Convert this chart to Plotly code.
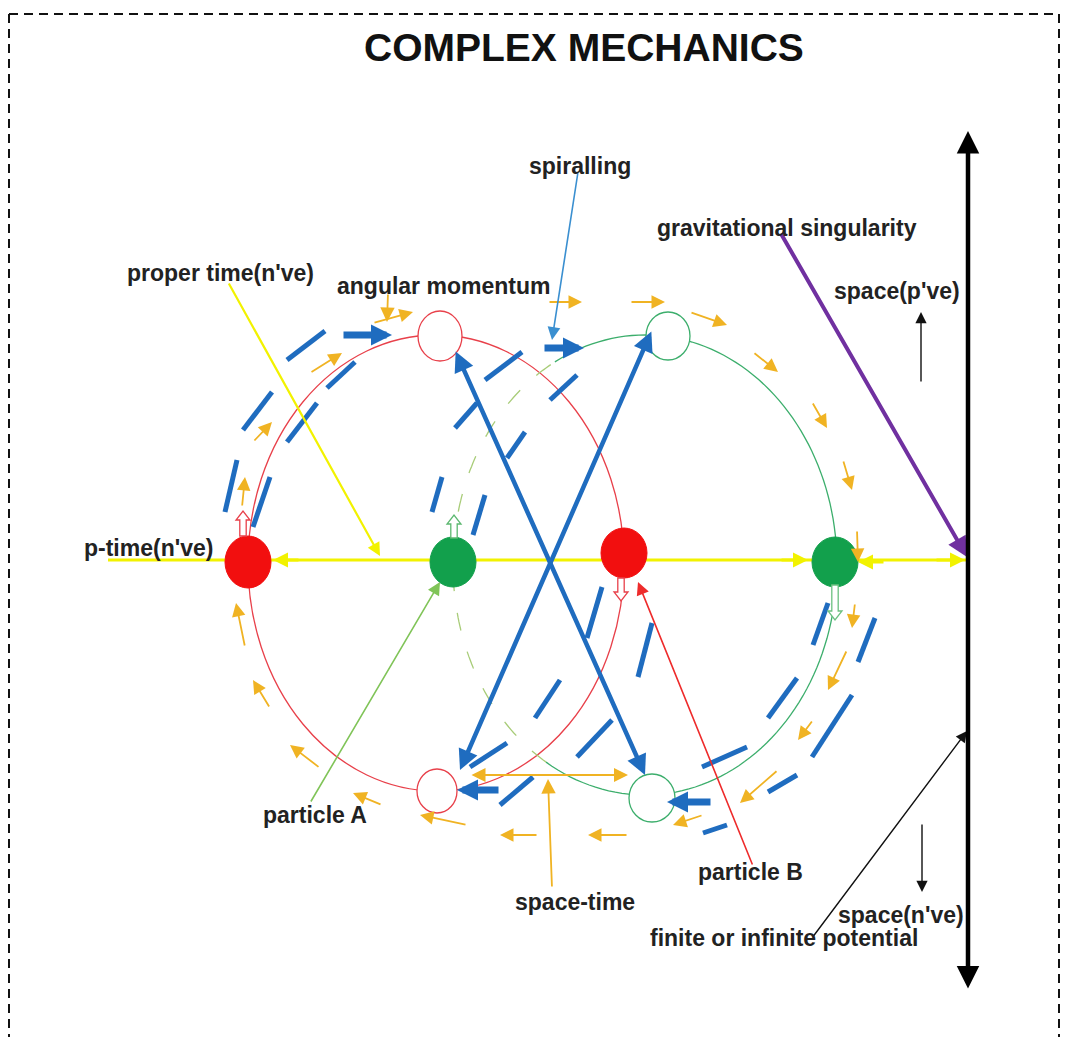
import numpy as np
import plotly.graph_objects as go

W, H = 1066, 1037

# ---------------- diagram data (pixel coordinates of the reference) ----------------
TITLE = "COMPLEX MECHANICS"

LABELS = [  # text, x-center, y-center
    ("spiralling", 580, 166),
    ("gravitational singularity", 787, 228),
    ("proper time(n've)", 220, 273),
    ("angular momentum", 443, 286),
    ("space(p've)", 897, 291),
    ("p-time(n've)", 148, 548),
    ("particle A", 315, 815),
    ("particle B", 750, 872),
    ("space-time", 575, 902),
    ("space(n've)", 901, 915),
    ("finite or infinite potential", 784, 938),
]

RED_ORBIT = (436, 563, 188, 228)      # cx, cy, rx, ry
GREEN_ORBIT = (645, 565, 192, 230)
GREEN_SOLID_DEG = (-118, 121)         # solid part of green orbit
GREEN_DASH_DEG = (121, 242)           # dashed part

FILLED = [  # cx, cy, rx, ry, colour
    (248, 562, 23, 26, "#f20f0f"),
    (453, 562, 23, 25, "#12a04c"),
    (624, 553, 23, 25, "#f20f0f"),
    (835, 562, 23, 25, "#12a04c"),
]
OPEN = [
    (440, 336, 22, 25, "#e8404a"),
    (437, 791, 20, 22, "#e8404a"),
    (668, 336, 22, 24, "#3cae6c"),
    (652, 798, 23, 24, "#3cae6c"),
]

BLUE_DASHES = [
    (287, 360, 325, 331), (243, 430, 272, 392), (225, 512, 237, 460),
    (327, 388, 355, 362), (287, 442, 317, 403), (253, 527, 270, 477),
    (485, 380, 522, 352), (550, 400, 577, 375), (455, 428, 477, 403),
    (507, 458, 525, 432), (432, 512, 442, 477), (473, 535, 485, 495),
    (587, 638, 602, 587), (638, 677, 652, 623), (535, 718, 560, 680),
    (577, 757, 612, 720), (500, 805, 533, 777), (470, 767, 507, 743),
    (702, 767, 747, 747), (768, 792, 797, 775), (703, 833, 727, 825),
    (768, 718, 797, 678), (812, 757, 852, 695), (813, 645, 828, 603),
    (858, 662, 875, 618),
]
BLUE_BLOCK_ARROWS = [  # tail x, tail y, head x, head y
    (342, 335, 392, 335), (543, 348, 584, 348),
    (712, 802, 667, 802), (500, 790, 457, 790),
]
BLUE_CROSS = [(455, 350, 645, 775), (652, 330, 460, 770)]

ORANGE_ARROWS = [
    (373, 323, 413, 312), (310, 373, 342, 353), (253, 442, 272, 422),
    (242, 507, 245, 477), (245, 647, 236, 603), (270, 708, 253, 680),
    (320, 768, 290, 745), (382, 805, 353, 793), (467, 825, 420, 815),
    (538, 835, 500, 835), (628, 835, 588, 835), (703, 815, 673, 825),
    (778, 770, 740, 803), (813, 720, 798, 740), (847, 650, 828, 690),
    (855, 603, 852, 628), (843, 460, 852, 490), (812, 402, 827, 428),
    (753, 352, 778, 372), (690, 312, 727, 325), (630, 302, 665, 302),
    (548, 302, 582, 302), (857, 530, 858, 562),
]

YELLOW_AXIS = (108, 968, 560)
YELLOW_HEADS = [(300, 560, 273, 560), (780, 560, 808, 560),
                (935, 560, 965, 560), (885, 562, 858, 562)]

HOLLOW = [  # x-center, y-top, y-bottom, direction, colour
    (243, 511, 536, "up", "#e8404a"),
    (454, 515, 538, "up", "#5cb870"),
    (621, 578, 601, "down", "#e8404a"),
    (835, 585, 620, "down", "#6cc080"),
]

# pointers: tail, head, colour, width
POINTERS = [
    ((228, 282), (380, 556), "#f2f200", 2.2),          # proper time
    ((388, 293), (387, 322), "#f0b323", 1.8),          # angular momentum
    ((578, 172), (552, 340), "#3a8fd0", 1.6),          # spiralling
    ((552, 888), (548, 779), "#f0b323", 1.8),          # space-time
    ((753, 866), (638, 582), "#ee2b2b", 1.6),          # particle B
    ((310, 803), (440, 582), "#80c458", 1.6),          # particle A
    ((812, 938), (967, 731), "#111111", 1.4),          # finite or infinite
    ((921, 383), (921, 312), "#111111", 1.4),          # space(p've)
    ((922, 823), (922, 892), "#111111", 1.4),          # space(n've)
]

# ---------------- build ----------------
fig = go.Figure()
shapes, annotations = [], []


def seg(x0, y0, x1, y1, color, width, dash=None):
    shapes.append(dict(type="line", xref="x", yref="y", x0=x0, y0=y0, x1=x1, y1=y1,
                       line=dict(color=color, width=width, dash=dash)))


def arrow(tail, head, color, width, size=1.0, both=False, style=2):
    annotations.append(dict(x=head[0], y=head[1], ax=tail[0], ay=tail[1],
                            xref="x", yref="y", axref="x", ayref="y", text="",
                            showarrow=True, arrowhead=style, arrowsize=size,
                            arrowwidth=width, arrowcolor=color,
                            arrowside="end+start" if both else "end",
                            startarrowhead=style, startarrowsize=size, standoff=0,
                            startstandoff=0))


def arc_path(cx, cy, rx, ry, d0, d1, n=120):
    t = np.radians(np.linspace(d0, d1, n))
    xs = cx + rx * np.cos(t)
    ys = cy + ry * np.sin(t)
    return "M " + " L ".join(f"{x:.1f},{y:.1f}" for x, y in zip(xs, ys))


# border
DASH = "9px,6px"
seg(9, 14, 1059, 14, "#111", 2, DASH)
seg(9, 14, 9, 1037, "#111", 2, DASH)
seg(1059, 14, 1059, 1037, "#111", 2, DASH)

# orbits
cx, cy, rx, ry = RED_ORBIT
shapes.append(dict(type="circle", xref="x", yref="y", x0=cx - rx, x1=cx + rx,
                   y0=cy - ry, y1=cy + ry, line=dict(color="#e8404a", width=1.3)))
gx, gy, grx, gry = GREEN_ORBIT
shapes.append(dict(type="path", xref="x", yref="y",
                   path=arc_path(gx, gy, grx, gry, *GREEN_SOLID_DEG),
                   line=dict(color="#3cae6c", width=1.3)))
shapes.append(dict(type="path", xref="x", yref="y",
                   path=arc_path(gx, gy, grx, gry, *GREEN_DASH_DEG),
                   line=dict(color="#a8cc78", width=1.3, dash="18px,22px")))

# yellow axis
x0, x1, yy = YELLOW_AXIS
seg(x0, yy, x1, yy, "#f2f200", 3)

# blue spiral dashes
for d in BLUE_DASHES:
    seg(*d, "#1f6cbf", 5)

# circles
for (ccx, ccy, crx, cry, col) in OPEN:
    shapes.append(dict(type="circle", xref="x", yref="y", x0=ccx - crx, x1=ccx + crx,
                       y0=ccy - cry, y1=ccy + cry, fillcolor="white",
                       line=dict(color=col, width=1.3)))
for (ccx, ccy, crx, cry, col) in FILLED:
    shapes.append(dict(type="circle", xref="x", yref="y", x0=ccx - crx, x1=ccx + crx,
                       y0=ccy - cry, y1=ccy + cry, fillcolor=col,
                       line=dict(color=col, width=1)))

# hollow block arrows
for (hx, yt, yb, direc, col) in HOLLOW:
    sw, hw, hh = 3.2, 7, 9
    if direc == "up":
        p = (f"M {hx-sw},{yb} L {hx-sw},{yt+hh} L {hx-hw},{yt+hh} L {hx},{yt} "
             f"L {hx+hw},{yt+hh} L {hx+sw},{yt+hh} L {hx+sw},{yb} Z")
    else:
        p = (f"M {hx-sw},{yt} L {hx-sw},{yb-hh} L {hx-hw},{yb-hh} L {hx},{yb} "
             f"L {hx+hw},{yb-hh} L {hx+sw},{yb-hh} L {hx+sw},{yt} Z")
    shapes.append(dict(type="path", xref="x", yref="y", path=p, fillcolor="white",
                       line=dict(color=col, width=1.3)))

# arrows
for (tx, ty, hx_, hy) in YELLOW_HEADS:
    arrow((tx, ty), (hx_, hy), "#f2f200", 3, 1.0)
for (tx, ty, hx_, hy) in ORANGE_ARROWS:
    arrow((tx, ty), (hx_, hy), "#f0b323", 1.8, 1.5)
arrow((470, 775), (628, 775), "#f0b323", 2, 1.4, both=True)
for (tail, head, col, w) in POINTERS:
    arrow(tail, head, col, w, 1.6 if w < 2 else 1.2)
for (tx, ty, hx_, hy) in BLUE_CROSS:
    arrow((tx, ty), (hx_, hy), "#1f6cbf", 4.5, 0.9, both=True)
for (tx, ty, hx_, hy) in BLUE_BLOCK_ARROWS:
    arrow((tx, ty), (hx_, hy), "#1f6cbf", 7, 0.6)
arrow((780, 232), (967, 557), "#7030a0", 4, 1.0)           # gravitational singularity
arrow((968, 990), (968, 131), "#000000", 4.5, 1.0, both=True)  # space axis

# text
annotations.append(dict(x=584, y=47, xref="x", yref="y", text=f"<b>{TITLE}</b>",
                        showarrow=False, font=dict(family="Liberation Sans, Arial",
                                                   size=39, color="#111")))
for (t, lx, ly) in LABELS:
    annotations.append(dict(x=lx, y=ly, xref="x", yref="y", text=f"<b>{t}</b>",
                            showarrow=False,
                            font=dict(family="Liberation Sans, Arial", size=23,
                                      color="#222")))

fig.update_layout(
    width=W, height=H, margin=dict(l=0, r=0, t=0, b=0),
    paper_bgcolor="white", plot_bgcolor="white",
    xaxis=dict(range=[0, W], visible=False, fixedrange=True),
    yaxis=dict(range=[H, 0], visible=False, fixedrange=True),
    shapes=shapes, annotations=annotations, showlegend=False,
)

fig.write_html("out.html", config={"displayModeBar": False},
               post_script="document.body.style.margin='0';document.body.style.overflow='hidden';")
